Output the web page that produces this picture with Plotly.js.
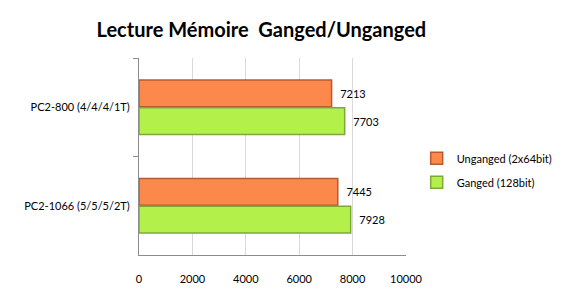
<!DOCTYPE html>
<html><head><meta charset="utf-8">
<script src="https://cdn.plot.ly/plotly-3.0.1.min.js"></script>
<style>body{margin:0;padding:0;background:#fff}#chart{width:577px;height:300px}</style>
</head><body><div id="chart"></div>
<script>
const categories = ["PC2-800 (4/4/4/1T)", "PC2-1066 (5/5/5/2T)"];
const seriesNames = ["Unganged (2x64bit)", "Ganged (128bit)"];
const unganged = [7213, 7445];
const ganged = [7703, 7928];
const xTicks = [0, 2000, 4000, 6000, 8000, 10000];

const font = {family: "Lato, 'Open Sans', sans-serif", size: 11, color: "#000"};
function trace(name, vals, fill, edge, grp) {
  return {
    type: "bar", orientation: "h", name: name, legendgroup: grp,
    y: categories, x: vals,
    texttemplate: "\u00a0\u00a0%{x}", textposition: "outside", cliponaxis: false,
    textfont: font,
    marker: {color: fill, line: {color: edge, width: 1.5}},
    hoverinfo: "none"
  };
}
const data = [
  trace(seriesNames[0], unganged, "#FC884C", "#B85A30", "a"),
  trace(seriesNames[1], ganged, "#B4F04A", "#7FA83A", "b")
];
const layout = {
  width: 577, height: 300,
  margin: {l: 139, r: 171, t: 58, b: 45, autoexpand: false},
  paper_bgcolor: "#fff", plot_bgcolor: "rgba(0,0,0,0)",
  font: font,
  title: {text: "<b>Lecture Mémoire  Ganged/Unganged</b>", font: {family: "Lato, 'Open Sans', sans-serif", size: 20, color: "#000"}, x: 0.453, xanchor: "center", y: 0.9, yanchor: "middle"},
  barmode: "group", bargap: 0.44, bargroupgap: 0.03,
  xaxis: {range: [0, 10000], tickvals: xTicks, ticktext: xTicks.map(String), showgrid: true, gridcolor: "#D9D9D9", gridwidth: 1,
          showline: true, linecolor: "#8C8C8C", zeroline: false, ticks: "", ticklabelstandoff: 14, tickfont: font, fixedrange: true},
  yaxis: {autorange: "reversed", showline: true, linecolor: "#8C8C8C", ticks: "outside", tickson: "boundaries", ticklen: 5, tickcolor: "#8C8C8C",
          tickfont: font, ticklabelstandoff: 6, fixedrange: true},
  legend: {x: 1.04, xanchor: "left", y: 0.43, yanchor: "middle", font: font, traceorder: "grouped", bgcolor: "rgba(0,0,0,0)", tracegroupgap: 5},
  showlegend: true
};
Plotly.newPlot("chart", data, layout, {displayModeBar: false, staticPlot: true});
</script></body></html>
